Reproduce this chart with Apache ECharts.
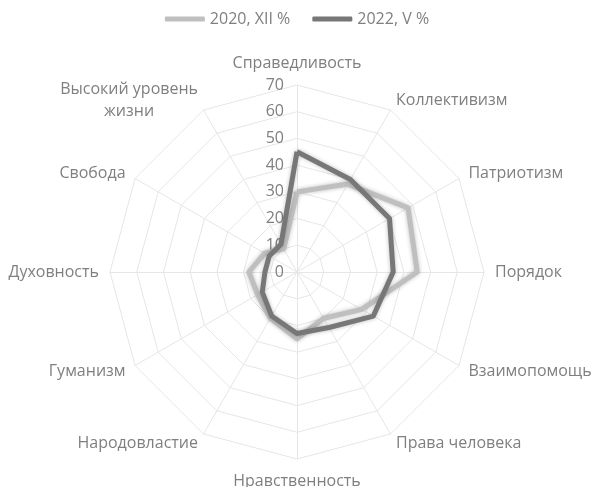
<!DOCTYPE html>
<html>
<head>
<meta charset="utf-8">
<script src="https://cdn.jsdelivr.net/npm/echarts@6/dist/echarts.min.js"></script>
<style>
  html, body { margin: 0; padding: 0; background: #fff; }
  #chart { width: 594px; height: 487px; }
</style>
</head>
<body>
<div id="chart"></div>
<script>
// values, clockwise from the top
var categories = ['Справедливость', 'Коллективизм', 'Патриотизм', 'Порядок', 'Взаимопомощь',
    'Права человека', 'Нравственность', 'Народовластие', 'Гуманизм', 'Духовность',
    'Свобода', 'Высокий уровень\nжизни'];
var values2020 = [30, 38, 48, 45, 28, 20, 25, 20, 17, 18, 14, 10];
var values2022 = [45, 40, 40, 36, 33, 24, 23, 19, 15, 12, 12, 12];
var seriesNames = ['2020, XII %', '2022, V %'];
var axisMax = 70;

var textColor = '#7f7f7f';
var font = 'Open Sans, Liberation Sans, sans-serif';

// echarts lays radar indicators out counter-clockwise, so keep the first and flip the rest
function clockwise(arr) {
    return [arr[0]].concat(arr.slice(1).reverse());
}

var indicator = clockwise(categories).map(function(name, i) {
    var ind = { name: name, min: 0, max: axisMax };
    if (i === 0) {
        ind.axisLabel = { show: true };
    }
    return ind;
});

var chart = echarts.init(document.getElementById('chart'));
chart.setOption({
    animation: false,
    color: ['#bfbfbf', '#777777'],
    legend: {
        top: 6,
        left: 'center',
        itemWidth: 40,
        itemHeight: 5,
        itemGap: 22,
        icon: 'roundRect',
        textStyle: { color: textColor, fontSize: 16, fontFamily: font },
        data: seriesNames
    },
    radar: {
        center: [297, 272],
        radius: 187,
        startAngle: 90,
        shape: 'polygon',
        splitNumber: 7,
        nameGap: 11,
        axisName: {
            color: textColor, fontSize: 16, fontFamily: font,
            formatter: function(name) {
                // centre each line of a wrapped name
                return name.split('\n').map(function(s) { return '{c|' + s + '}'; }).join('\n');
            },
            rich: { c: { align: 'center', color: textColor, fontSize: 16, fontFamily: font, lineHeight: 22 } }
        },
        axisLine: { lineStyle: { color: '#e6e6e6', width: 1 } },
        splitLine: { lineStyle: { color: '#e6e6e6', width: 1 } },
        splitArea: { show: false },
        axisTick: { show: false },
        axisLabel: { show: false, color: textColor, fontSize: 16, fontFamily: font, margin: 13 },
        indicator: indicator
    },
    series: [{
        type: 'radar',
        symbol: 'none',
        lineStyle: { width: 5, shadowBlur: 4, shadowColor: 'rgba(0,0,0,0.25)' },
        data: [
            { name: seriesNames[0], value: clockwise(values2020) },
            { name: seriesNames[1], value: clockwise(values2022) }
        ]
    }]
});
</script>
</body>
</html>
